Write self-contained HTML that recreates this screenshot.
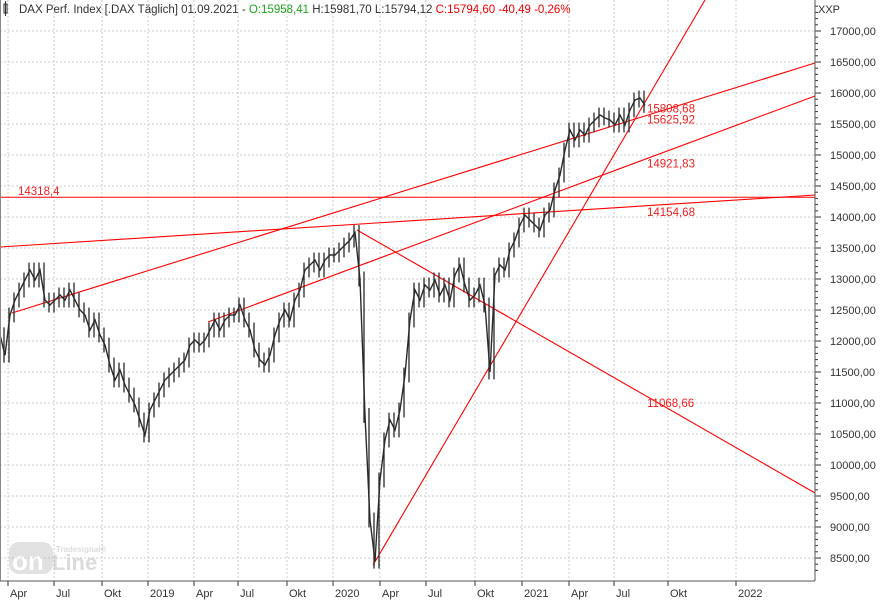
<!DOCTYPE html>
<html><head><meta charset="utf-8"><style>
body{margin:0;background:#fff;}
svg{display:block;font-family:"Liberation Sans",sans-serif;}
</style></head><body>
<svg id="chart" width="886" height="600" viewBox="0 0 886 600">
<rect x="0" y="0" width="886" height="600" fill="#fff"/>
<g id="grid"></g>
<g id="trend"></g>
<g id="price"></g>
<g id="axes"></g>
<g opacity="0.35">
<rect x="9" y="542" width="44" height="32" rx="10" fill="#aaa"/>
<text x="12" y="570" font-size="26" font-weight="bold" fill="#fff">on</text>
<text x="52" y="570" font-size="22" font-weight="bold" fill="#999">Line</text>
<text x="56" y="552" font-size="8" font-weight="bold" fill="#999">Tradesignal®</text>
</g>
<g>
<rect x="4" y="4" width="3" height="9" fill="none" stroke="#333"/>
<line x1="5.5" y1="1" x2="5.5" y2="16" stroke="#333"/>
<text x="19" y="13" font-size="11.5" fill="#333">DAX Perf. Index [.DAX  Täglich] 01.09.2021 - <tspan fill="#1aa51a">O:15958,41</tspan> H:15981,70 L:15794,12 <tspan fill="#e00">C:15794,60 -40,49 -0,26%</tspan></text>
</g>
<text x="818" y="13" font-size="11" fill="#333">XXP</text>
</svg>
<script>
const closes=[12100,11770,12419,12661,12822,12984,13145,12984,13145,12661,12580,12661,12742,12661,12822,12661,12500,12419,12177,12339,12097,11935,11613,11371,11532,11290,11129,10968,10726,10484,10887,11050,11210,11371,11452,11532,11613,11693,11935,12016,11935,12016,12177,12339,12177,12339,12419,12419,12580,12339,12177,11855,11693,11613,11774,12097,12339,12500,12339,12661,12822,13145,13226,13306,13145,13306,13387,13387,13468,13548,13629,13750,13000,10800,9113,8450,9758,10403,10726,10565,10887,11452,12339,12822,12661,12903,12822,12984,12742,12903,12661,13064,13226,12903,12661,12742,12903,12580,11500,13064,13226,13145,13468,13629,13871,14032,13950,13871,13790,14032,14113,14436,14677,15080,15403,15242,15403,15320,15484,15565,15645,15597,15565,15484,15645,15484,15726,15887,15919,15800];
const yTicks=[17000,16500,16000,15500,15000,14500,14000,13500,13000,12500,12000,11500,11000,10500,10000,9500,9000,8500];
const xTickLabels=["Apr","Jul","Okt","2019","Apr","Jul","Okt","2020","Apr","Jul","Okt","2021","Apr","Jul","Okt","2022"];
const xTickIdx=[1.6,10.8,20.4,29.6,38.8,47.6,57.4,66.6,76,85.2,95,104.4,113.8,122.8,133.6,147.2];
const trendStartIdx=[0,0,2.4,41.6,71.4,74.6];
const trendStartVal=[14318.4,13516,12452,12306,13790,8385];
const trendEndIdx=[163,163,163,163,163,141];
const trendEndVal=[14318.4,14355,16484,15952,9548,17500];
const trendLabels=["14318,4","14154,68","15808,68","15625,92","14921,83","11068,66"];
const trendLabelVal=[14420,14080,15750,15570,14860,11000];
const trendLabelIdx=[3.6,129.4,129.4,129.4,129.4,129.4];

const NS="http://www.w3.org/2000/svg";
const PX=815,BOT=581,STEP=5;
function xs(i){return i*STEP;}
function ys(v){return 31+(17000-v)/500*31;}
function mk(tag,attrs,parent){const e=document.createElementNS(NS,tag);for(const k in attrs)e.setAttribute(k,attrs[k]);parent.appendChild(e);return e;}
const grid=document.getElementById('grid'),axes=document.getElementById('axes'),trend=document.getElementById('trend'),price=document.getElementById('price');
yTicks.forEach((v,i)=>{
 const l=mk('line',{x1:0,x2:PX,y1:ys(v),y2:ys(v),stroke:'#ccc','stroke-dasharray':'2,2'},grid);
 
 
 const t=mk('line',{x1:PX,x2:PX+6,y1:ys(v),y2:ys(v),stroke:'#333'},axes);
 
 
 const tx=mk('text',{x:830,y:ys(v)+4,'font-size':11,fill:'#333'},axes);
 tx.textContent=v.toFixed(2).replace('.',',');
 
 
});
for(let v=8300;v<=17400;v+=100){mk('line',{x1:PX,x2:PX+3,y1:ys(v),y2:ys(v),stroke:'#333'},axes);}
xTickIdx.forEach((ix,i)=>{
 const x=xs(ix);
 const l=mk('line',{x1:x,x2:x,y1:0,y2:BOT,stroke:'#ccc','stroke-dasharray':'2,2'},grid);
 
 
 mk('line',{x1:x,x2:x,y1:BOT,y2:BOT+5,stroke:'#333'},axes);
 const tx=mk('text',{x:x+2,y:597,'font-size':11,fill:'#333'},axes);
 tx.textContent=xTickLabels[i];
 
 
});
const ax1=mk('line',{x1:0,x2:PX,y1:BOT,y2:BOT,stroke:'#555'},axes);


const ax2=mk('line',{x1:PX,x2:PX,y1:0,y2:BOT,stroke:'#555'},axes);


mk('line',{x1:0.5,x2:0.5,y1:0,y2:BOT,stroke:'#888'},axes);
trendStartIdx.forEach((s,i)=>{
 const l=mk('line',{x1:xs(s),y1:ys(trendStartVal[i]),x2:xs(trendEndIdx[i]),y2:ys(trendEndVal[i]),stroke:'#f00','stroke-width':1.1},trend);
 
 
 const t=mk('text',{x:xs(trendLabelIdx[i]),y:ys(trendLabelVal[i])+4,'font-size':11.5,fill:'#f02020'},trend);
 t.textContent=trendLabels[i];
 
 
});
let d='';
closes.forEach((v,i)=>{d+=(i?'L':'M')+xs(i)+','+ys(v);});
const p=mk('path',{d:d,fill:'none',stroke:'#2a2a2a','stroke-width':1.4,'stroke-linejoin':'miter'},price);


closes.forEach((v,i)=>{
 const prev=i?closes[i-1]:v;
 const hi=Math.max(v,prev)+120,lo=Math.min(v,prev)-120;
 const b=mk('line',{x1:xs(i)-1,x2:xs(i)-1,y1:ys(hi),y2:ys(lo),stroke:'#2a2a2a','stroke-width':1.3},price);
 
 
});
</script>
</body></html>
